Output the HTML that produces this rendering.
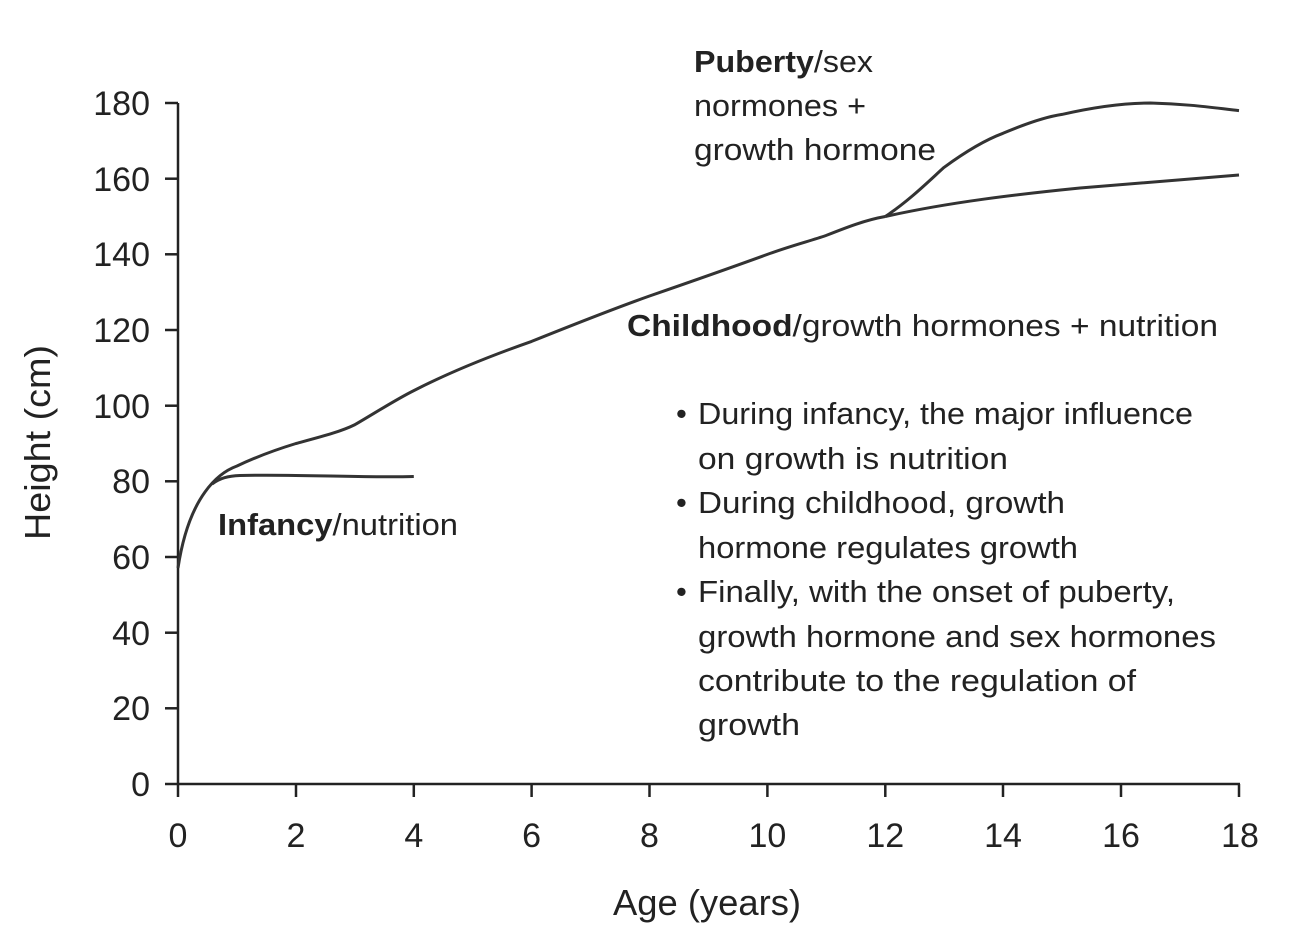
<!DOCTYPE html>
<html><head><meta charset="utf-8"><style>
html,body{margin:0;padding:0;background:#fff;}
svg{display:block;}
text{font-family:"Liberation Sans",sans-serif;fill:#222;}
</style></head><body>
<svg width="1293" height="937" viewBox="0 0 1293 937" xmlns="http://www.w3.org/2000/svg">
<g stroke="#222" stroke-width="2.5" fill="none">
<line x1="178" y1="103" x2="178" y2="785"/>
<line x1="177" y1="784" x2="1240" y2="784"/>
<line x1="165" y1="103" x2="178" y2="103"/>
<line x1="165" y1="178.7" x2="178" y2="178.7"/>
<line x1="165" y1="254.3" x2="178" y2="254.3"/>
<line x1="165" y1="330" x2="178" y2="330"/>
<line x1="165" y1="405.7" x2="178" y2="405.7"/>
<line x1="165" y1="481.3" x2="178" y2="481.3"/>
<line x1="165" y1="557" x2="178" y2="557"/>
<line x1="165" y1="632.7" x2="178" y2="632.7"/>
<line x1="165" y1="708.3" x2="178" y2="708.3"/>
<line x1="165" y1="784" x2="178" y2="784"/>
<line x1="178" y1="784" x2="178" y2="797"/>
<line x1="296" y1="784" x2="296" y2="797"/>
<line x1="413.8" y1="784" x2="413.8" y2="797"/>
<line x1="531.6" y1="784" x2="531.6" y2="797"/>
<line x1="649.5" y1="784" x2="649.5" y2="797"/>
<line x1="767.4" y1="784" x2="767.4" y2="797"/>
<line x1="885.3" y1="784" x2="885.3" y2="797"/>
<line x1="1003" y1="784" x2="1003" y2="797"/>
<line x1="1121" y1="784" x2="1121" y2="797"/>
<line x1="1239" y1="784" x2="1239" y2="797"/>
</g>
<g stroke="#333" stroke-width="3" fill="none" stroke-linejoin="round">
<path d="M178,568 C183,535 192,510 205,492 C215,478 226,470 237,466 C258,456 278,449 296,443.5 C320,437 340,432 355,424.6 C375,413 395,400 413.8,390.6 C450,372 490,356 531.6,341.4 C570,326 610,310 649.5,296 C690,282 730,268 767.4,254.4 C790,246 810,241 826,235.5 C845,228 865,220 885.3,216.5"/>
<path d="M885.3,216.5 C910,200 930,180 944,167.4 C965,152 985,140 1003,133.3 C1025,124 1045,117 1062,114.4 C1090,108 1120,103 1150.5,103 C1190,104 1215,108 1239,110.6"/>
<path d="M885.3,216.5 C950,202 1020,194 1080,188 C1140,183 1190,179 1239,175"/>
<path d="M212,484 C220,478 228,476 240,475.5 C300,474 360,478 413.8,476.5"/>
</g>
<g font-size="34" text-anchor="end">
<text x="150" y="115">180</text><text x="150" y="191">160</text><text x="150" y="266">140</text>
<text x="150" y="342">120</text><text x="150" y="418">100</text><text x="150" y="493">80</text>
<text x="150" y="569">60</text><text x="150" y="645">40</text><text x="150" y="720">20</text>
<text x="150" y="796">0</text>
</g>
<g font-size="34" text-anchor="middle">
<text x="178" y="847">0</text><text x="296" y="847">2</text><text x="413.8" y="847">4</text>
<text x="531.6" y="847">6</text><text x="649.5" y="847">8</text><text x="767.4" y="847">10</text>
<text x="885.3" y="847">12</text><text x="1003" y="847">14</text><text x="1121" y="847">16</text>
<text x="1240" y="847">18</text>
</g>
<text x="613" y="915" font-size="36" textLength="188" lengthAdjust="spacingAndGlyphs">Age (years)</text>
<text font-size="36" textLength="195" lengthAdjust="spacingAndGlyphs" transform="translate(50,540) rotate(-90)">Height (cm)</text>
<g font-size="31" lengthAdjust="spacingAndGlyphs">
<text x="218" y="535" textLength="240" lengthAdjust="spacingAndGlyphs"><tspan font-weight="bold">Infancy</tspan>/nutrition</text>
<text x="627" y="336" textLength="591" lengthAdjust="spacingAndGlyphs"><tspan font-weight="bold">Childhood</tspan>/growth hormones + nutrition</text>
<text x="694" y="72" textLength="179" lengthAdjust="spacingAndGlyphs"><tspan font-weight="bold">Puberty</tspan>/sex</text>
<text x="694" y="116" textLength="172" lengthAdjust="spacingAndGlyphs">normones +</text>
<text x="694" y="160" textLength="242" lengthAdjust="spacingAndGlyphs">growth hormone</text>
<text x="676" y="424">•</text><text x="698" y="424" textLength="495" lengthAdjust="spacingAndGlyphs">During infancy, the major influence</text>
<text x="698" y="469" textLength="310" lengthAdjust="spacingAndGlyphs">on growth is nutrition</text>
<text x="676" y="513">•</text><text x="698" y="513" textLength="367" lengthAdjust="spacingAndGlyphs">During childhood, growth</text>
<text x="698" y="558" textLength="380" lengthAdjust="spacingAndGlyphs">hormone regulates growth</text>
<text x="676" y="602">•</text><text x="698" y="602" textLength="477" lengthAdjust="spacingAndGlyphs">Finally, with the onset of puberty,</text>
<text x="698" y="647" textLength="518" lengthAdjust="spacingAndGlyphs">growth hormone and sex hormones</text>
<text x="698" y="691" textLength="438" lengthAdjust="spacingAndGlyphs">contribute to the regulation of</text>
<text x="698" y="735" textLength="102" lengthAdjust="spacingAndGlyphs">growth</text>
</g>
</svg>
</body></html>
